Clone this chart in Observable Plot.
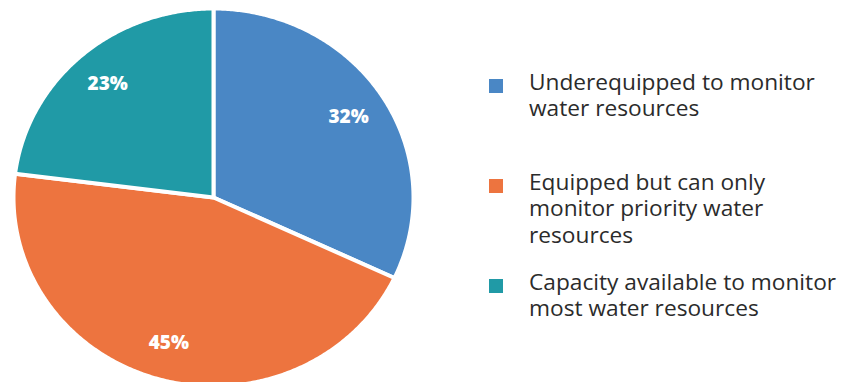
<!DOCTYPE html>
<html>
<head>
<meta charset="utf-8">
<script src="https://cdn.jsdelivr.net/npm/d3@7"></script>
<script src="https://cdn.jsdelivr.net/npm/@observablehq/plot@0.6"></script>
<style>
  html, body { margin: 0; padding: 0; background: #fff; }
  #wrap { position: relative; width: 845px; height: 382px; overflow: hidden; }
  #legend { position: absolute; left: 489px; top: 0; }
  .item { position: absolute; left: 0; display: flex; align-items: flex-start; width: 356px; }
  .sw { width: 14px; height: 14px; margin-top: 10px; flex: none; }
  .lbl { margin-left: 26px; font-family: "Open Sans", sans-serif; font-size: 22.7px; line-height: 26.3px; color: #2b2b2b; white-space: pre-line; }
</style>
</head>
<body>
<div id="wrap"><div id="chart"></div><div id="legend"></div></div>
<script>
const categories = [
  "Underequipped to monitor\nwater resources",
  "Equipped but can only\nmonitor priority water\nresources",
  "Capacity available to monitor\nmost water resources"
];
const shares = [32, 45, 23];
const shareLabels = ["32%", "45%", "23%"];
const colors = ["#4A87C5", "#ED743F", "#209AA6"];

// Build slice outlines (angle measured clockwise from 12 o'clock)
const total = d3.sum(shares);
const slicePts = [];
const labelPts = [];
let acc = 0;
categories.forEach((cat, i) => {
  const a0 = acc / total * 2 * Math.PI;
  acc += shares[i];
  const a1 = acc / total * 2 * Math.PI;
  slicePts.push({cat, x: 0, y: 0});
  const n = Math.ceil((a1 - a0) / (Math.PI / 360));
  for (let k = 0; k <= n; k++) {
    const a = a0 + (a1 - a0) * k / n;
    slicePts.push({cat, x: Math.sin(a), y: Math.cos(a)});
  }
  slicePts.push({cat, x: 0, y: 0});
  const am = (a0 + a1) / 2;
  labelPts.push({cat, text: shareLabels[i], x: 0.8 * Math.sin(am), y: 0.8 * Math.cos(am)});
});

const chart = Plot.plot({
  width: 845,
  height: 382,
  margin: 0,
  x: {domain: [-1, 1], range: [13, 413], axis: null},
  y: {domain: [-1, 1], range: [386, 8], axis: null},
  color: {domain: categories, range: colors},
  marks: [
    Plot.line(slicePts, {x: "x", y: "y", z: "cat", fill: "cat", stroke: "white", strokeWidth: 4, curve: "linear"}),
    Plot.text(labelPts, {x: "x", y: "y", text: "text", fill: "white", fontSize: 19, fontWeight: 800, fontFamily: "Open Sans"})
  ]
});
document.getElementById("chart").appendChild(chart);

const legend = d3.select("#legend");
categories.forEach((cat, i) => {
  const item = legend.append("div").attr("class", "item").style("top", (69 + i * 100) + "px");
  item.append("div").attr("class", "sw").style("background", colors[i]);
  item.append("div").attr("class", "lbl").text(cat);
});
</script>
</body>
</html>
